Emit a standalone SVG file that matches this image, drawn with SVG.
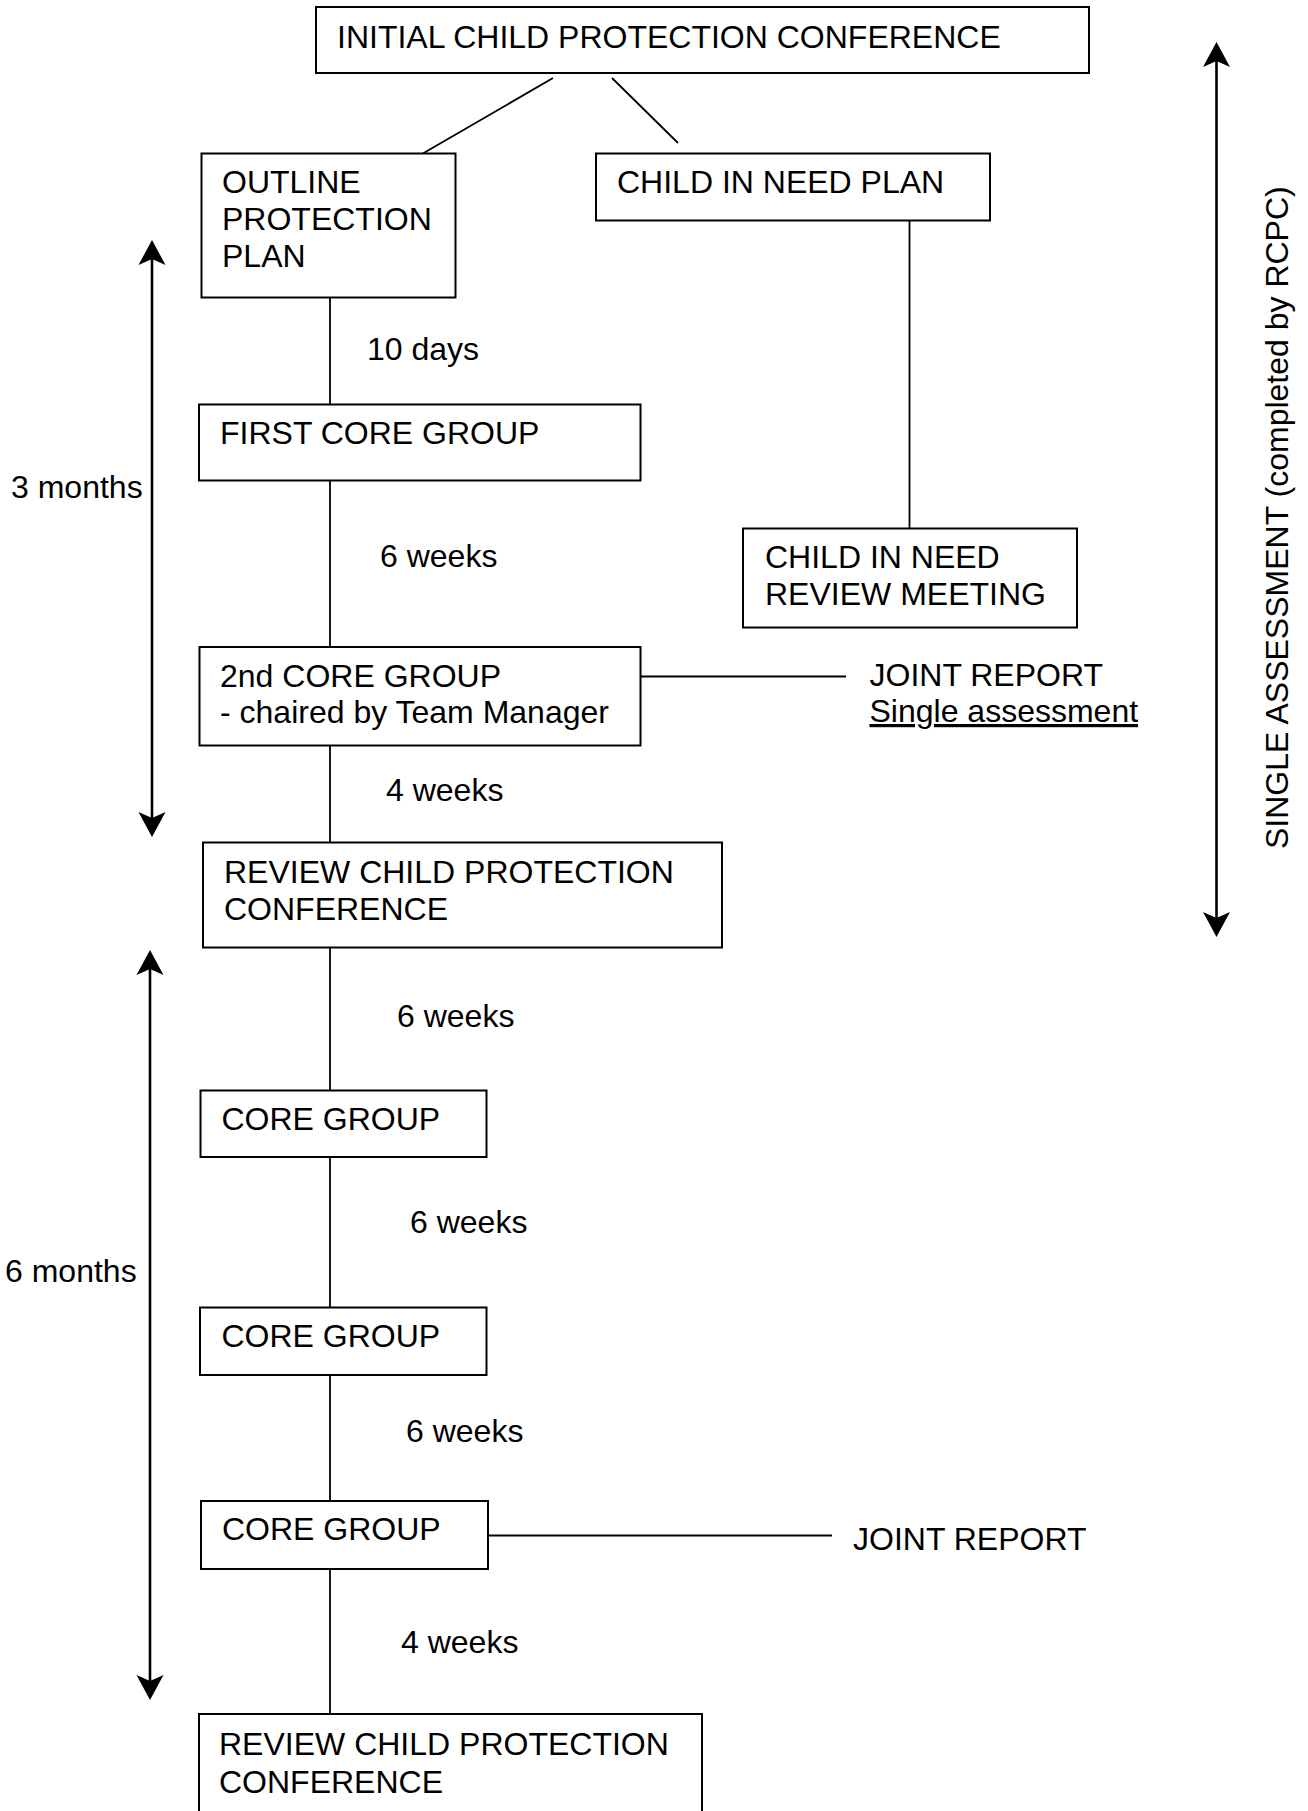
<svg xmlns="http://www.w3.org/2000/svg" width="1308" height="1811" viewBox="0 0 1308 1811">
<style>
.box{fill:#fff;stroke:#000;stroke-width:2}
.t{font-family:"Liberation Sans",Arial,sans-serif;font-size:32px;fill:#000}
.c{stroke:#000;stroke-width:1.8;fill:none}
.a{stroke:#000;stroke-width:2.6;fill:none}
</style>
<defs>
<marker id="ah" markerUnits="userSpaceOnUse" viewBox="-11 -14 27 28" markerWidth="27" markerHeight="28" refX="0" refY="0" orient="auto-start-reverse">
<path d="M15,0 L-10,-13.5 L-4,0 L-10,13.5 Z" fill="#000"/>
</marker>
</defs>
<rect width="1308" height="1811" fill="#fff"/>
<g id="connectors">
<line class="c" x1="553" y1="78" x2="422" y2="154"/>
<line class="c" x1="612" y1="78" x2="678" y2="143"/>
<line class="c" x1="330" y1="298" x2="330" y2="404.5"/>
<line class="c" x1="330" y1="480.5" x2="330" y2="647"/>
<line class="c" x1="330" y1="745.5" x2="330" y2="842.5"/>
<line class="c" x1="330" y1="947.5" x2="330" y2="1090.5"/>
<line class="c" x1="330" y1="1157" x2="330" y2="1307.5"/>
<line class="c" x1="330" y1="1375" x2="330" y2="1501"/>
<line class="c" x1="330" y1="1569" x2="330" y2="1714"/>
<line class="c" x1="909.5" y1="220.5" x2="909.5" y2="528.5"/>
<line class="c" x1="640.5" y1="676.5" x2="846" y2="676.5"/>
<line class="c" x1="488" y1="1535.5" x2="832" y2="1535.5"/>
<line class="a" x1="152" y1="255" x2="152" y2="822" marker-start="url(#ah)" marker-end="url(#ah)"/>
<line class="a" x1="150" y1="965" x2="150" y2="1685" marker-start="url(#ah)" marker-end="url(#ah)"/>
<line class="a" x1="1216.5" y1="57" x2="1216.5" y2="922" marker-start="url(#ah)" marker-end="url(#ah)"/>
</g>
<g id="n-initial"><rect class="box" x="316" y="7" width="773" height="66"/><text class="t" x="337" y="48">INITIAL CHILD PROTECTION CONFERENCE</text></g>
<g id="n-outline"><rect class="box" x="201.5" y="153.5" width="254" height="144"/><text class="t" x="222" y="193">OUTLINE</text><text class="t" x="222" y="230">PROTECTION</text><text class="t" x="222" y="267">PLAN</text></g>
<g id="n-cinplan"><rect class="box" x="596" y="153.5" width="394" height="67"/><text class="t" x="617" y="193">CHILD IN NEED PLAN</text></g>
<g id="n-firstcore"><rect class="box" x="199" y="404.5" width="441.5" height="76"/><text class="t" x="220" y="444">FIRST CORE GROUP</text></g>
<g id="n-cinreview"><rect class="box" x="743" y="528.5" width="334" height="99"/><text class="t" x="765" y="567.5">CHILD IN NEED</text><text class="t" x="765" y="604.5">REVIEW MEETING</text></g>
<g id="n-2ndcore"><rect class="box" x="199.5" y="647" width="441" height="98.5"/><text class="t" x="220" y="687">2nd CORE GROUP</text><text class="t" x="220" y="723">- chaired by Team Manager</text></g>
<g id="n-review1"><rect class="box" x="203" y="842.5" width="519" height="105"/><text class="t" x="224" y="882.5">REVIEW CHILD PROTECTION</text><text class="t" x="224" y="920">CONFERENCE</text></g>
<g id="n-core1"><rect class="box" x="200.5" y="1090.5" width="286" height="66.5"/><text class="t" x="221.5" y="1130">CORE GROUP</text></g>
<g id="n-core2"><rect class="box" x="200" y="1307.5" width="286.5" height="67.5"/><text class="t" x="221.5" y="1346.5">CORE GROUP</text></g>
<g id="n-core3"><rect class="box" x="201" y="1501" width="287" height="68"/><text class="t" x="222" y="1540">CORE GROUP</text></g>
<g id="n-review2"><rect class="box" x="199" y="1714" width="503" height="130"/><text class="t" x="219" y="1755">REVIEW CHILD PROTECTION</text><text class="t" x="219" y="1793">CONFERENCE</text></g>
<g id="labels">
<text class="t" x="367" y="360">10 days</text>
<text class="t" x="11" y="498">3 months</text>
<text class="t" x="380" y="566.5">6 weeks</text>
<text class="t" x="386" y="801">4 weeks</text>
<text class="t" x="869.5" y="686">JOINT REPORT</text>
<text class="t" x="869.5" y="722" text-decoration="underline">Single assessment</text>
<text class="t" x="397" y="1027">6 weeks</text>
<text class="t" x="410" y="1232.5">6 weeks</text>
<text class="t" x="5" y="1282">6 months</text>
<text class="t" x="406" y="1442">6 weeks</text>
<text class="t" x="853" y="1550">JOINT REPORT</text>
<text class="t" x="401" y="1653">4 weeks</text>
<text class="t" transform="translate(1288,849) rotate(-90)">SINGLE ASSESSMENT (completed by RCPC)</text>
</g>
</svg>
